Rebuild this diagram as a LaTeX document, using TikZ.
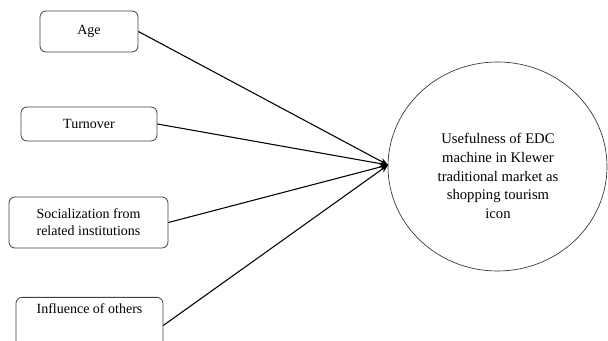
\documentclass[tikz,border=0pt]{standalone}
\usepackage{fontspec}
\setmainfont{Liberation Serif}
\usetikzlibrary{shapes.geometric,arrows.meta}
\begin{document}
\begin{tikzpicture}[x=0.75pt,y=-0.75pt,
  box/.style={draw=black!75,line width=0.6pt,rounded corners=4.5pt,align=center,inner sep=0pt,
    font=\fontsize{10.5}{12.75}\selectfont},
  conn/.style={line width=0.8pt,-{Stealth[length=6pt,width=5pt]}},
]
\useasboundingbox (0,0) rectangle (608,341);
\clip (0,0) rectangle (608,341);
\node[box,minimum width=98*0.75pt,minimum height=41*0.75pt] (age) at (89,31.5) {Age};
\node[box,minimum width=136*0.75pt,minimum height=34*0.75pt] (turn) at (89,124) {Turnover};
\node[box,minimum width=159*0.75pt,minimum height=51*0.75pt] (soc) at (88.5,222.5) {Socialization from\\related institutions};
\node[box,minimum width=147*0.75pt,anchor=north,inner ysep=4pt,text height=8pt,text depth=26pt] (infl) at (89.5,297) {Influence of others};
\node[draw=black!80,line width=0.5pt,ellipse,minimum width=219*0.75pt,minimum height=209*0.75pt,inner sep=0pt] (use) at (497.5,166.5) {};
\node[align=center,font=\fontsize{11}{14}\selectfont] (usetext) at (498,176) {Usefulness of EDC\\machine in Klewer\\traditional market as\\shopping tourism\\icon};
\coordinate (tip) at (388,165);
\draw[conn] (age.east) -- (tip);
\draw[conn] (turn.east) -- (tip);
\draw[conn] (soc.east) -- (tip);
\draw[conn] (infl.east) -- (tip);
\end{tikzpicture}
\end{document}
